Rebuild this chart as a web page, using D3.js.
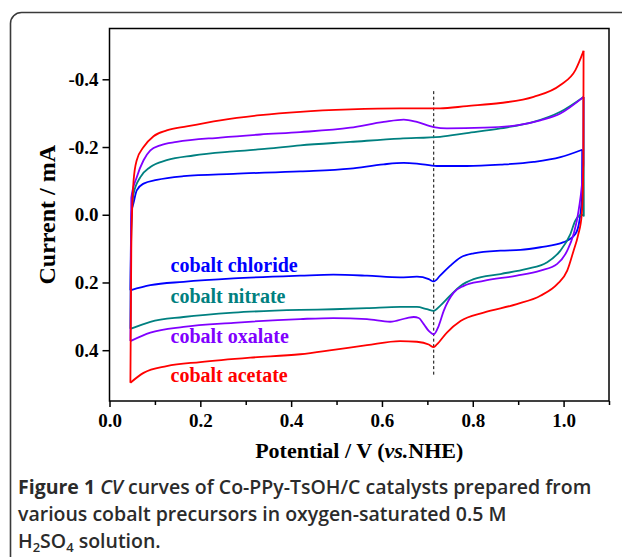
<!DOCTYPE html>
<html>
<head>
<meta charset="utf-8">
<script src="https://cdn.jsdelivr.net/npm/d3@7"></script>
<style>
  body { margin: 0; background: #fff; }
  svg { display: block; }
</style>
</head>
<body>
<div id="chart"></div>
<script>
// [potential V vs NHE, current mA]; forward sweep (upper branch) then reverse sweep (lower branch)
const chlorideFwd = [[0.046, 0.223], [0.047, 0.1], [0.049, -0.012], [0.053, -0.035], [0.060, -0.072], [0.075, -0.092],
  [0.104, -0.103], [0.163, -0.114], [0.273, -0.121], [0.420, -0.128], [0.530, -0.136], [0.604, -0.149], [0.648, -0.153],
  [0.677, -0.151], [0.721, -0.144], [0.787, -0.144], [0.861, -0.148], [0.934, -0.156], [0.993, -0.170], [1.041, -0.192]];
const chlorideRev = [[1.041, -0.192], [1.0405, -0.06], [1.035, 0.017], [1.026, 0.057], [1.000, 0.081], [0.949, 0.096],
  [0.905, 0.104], [0.861, 0.106], [0.802, 0.114], [0.773, 0.126], [0.750, 0.151], [0.728, 0.180], [0.714, 0.197],
  [0.703, 0.190], [0.677, 0.183], [0.640, 0.185], [0.567, 0.180], [0.493, 0.177], [0.420, 0.180], [0.273, 0.188],
  [0.163, 0.198], [0.090, 0.208], [0.046, 0.223]];

const nitrateFwd = [[0.046, 0.337], [0.047, 0.15], [0.049, 0.0], [0.053, -0.062], [0.068, -0.111], [0.090, -0.141],
  [0.126, -0.161], [0.185, -0.175], [0.273, -0.187], [0.347, -0.195], [0.420, -0.205], [0.530, -0.215], [0.640, -0.225],
  [0.728, -0.230], [0.787, -0.241], [0.861, -0.255], [0.934, -0.274], [0.993, -0.304], [1.044, -0.348]];
const nitrateRev = [[1.044, -0.348], [1.0445, 0.003], [1.040, 0.0], [1.026, 0.017], [1.015, 0.057], [0.993, 0.106],
  [0.963, 0.141], [0.919, 0.160], [0.861, 0.175], [0.802, 0.190], [0.773, 0.210], [0.750, 0.239], [0.728, 0.269],
  [0.714, 0.284], [0.699, 0.279], [0.677, 0.272], [0.640, 0.272], [0.567, 0.276], [0.493, 0.279], [0.420, 0.281],
  [0.273, 0.289], [0.163, 0.302], [0.090, 0.316], [0.046, 0.337]];

const oxalateFwd = [[0.046, 0.373], [0.047, 0.15], [0.048, -0.05], [0.060, -0.111], [0.075, -0.161], [0.090, -0.190],
  [0.112, -0.205], [0.148, -0.215], [0.244, -0.228], [0.332, -0.237], [0.420, -0.244], [0.530, -0.257], [0.604, -0.274],
  [0.648, -0.281], [0.677, -0.274], [0.714, -0.259], [0.743, -0.255], [0.824, -0.257], [0.897, -0.264], [0.949, -0.279],
  [0.993, -0.299], [1.044, -0.348]];
const oxalateRev = [[1.044, -0.348], [1.0435, -0.15], [1.033, -0.012], [1.022, 0.057], [1.008, 0.106], [0.986, 0.145],
  [0.949, 0.165], [0.897, 0.180], [0.824, 0.195], [0.780, 0.210], [0.758, 0.230], [0.736, 0.284], [0.725, 0.328],
  [0.714, 0.353], [0.703, 0.343], [0.692, 0.323], [0.681, 0.305], [0.670, 0.302], [0.655, 0.305], [0.618, 0.316],
  [0.567, 0.308], [0.493, 0.305], [0.420, 0.308], [0.273, 0.319], [0.163, 0.331], [0.090, 0.348], [0.046, 0.373]];

const acetateFwd = [[0.046, 0.496], [0.047, 0.3], [0.048, 0.1], [0.050, -0.02], [0.053, -0.1], [0.060, -0.161],
  [0.075, -0.200], [0.097, -0.232], [0.126, -0.249], [0.170, -0.261], [0.244, -0.279], [0.332, -0.294], [0.420, -0.304],
  [0.530, -0.311], [0.640, -0.314], [0.728, -0.314], [0.787, -0.321], [0.861, -0.330], [0.934, -0.348], [0.993, -0.383],
  [1.026, -0.427], [1.044, -0.484]];
const acetateRev = [[1.044, -0.484], [1.0435, -0.15], [1.040, 0.0], [1.032, 0.06], [1.022, 0.106], [1.008, 0.165],
  [0.986, 0.205], [0.949, 0.239], [0.897, 0.264], [0.824, 0.289], [0.773, 0.314], [0.743, 0.348], [0.721, 0.383],
  [0.714, 0.391], [0.703, 0.383], [0.677, 0.375], [0.640, 0.373], [0.567, 0.385], [0.493, 0.399], [0.420, 0.412],
  [0.310, 0.422], [0.200, 0.435], [0.126, 0.447], [0.075, 0.467], [0.046, 0.496]];

const seriesNames = ['cobalt chloride', 'cobalt nitrate', 'cobalt oxalate', 'cobalt acetate'];
const seriesColors = ['#0000ff', '#008080', '#8000ff', '#ff0000'];
const branches = [
  { color: 0, pts: chlorideFwd }, { color: 0, pts: chlorideRev },
  { color: 1, pts: nitrateFwd }, { color: 1, pts: nitrateRev },
  { color: 2, pts: oxalateFwd }, { color: 2, pts: oxalateRev },
  { color: 3, pts: acetateFwd }, { color: 3, pts: acetateRev }
];

const xTicks = [0, 0.2, 0.4, 0.6, 0.8, 1.0];
const xTickLabels = ['0.0', '0.2', '0.4', '0.6', '0.8', '1.0'];
const xMinorTicks = [0.1, 0.3, 0.5, 0.7, 0.9, 1.1];
const yTicks = [-0.4, -0.2, 0, 0.2, 0.4];
const yTickLabels = ['-0.4', '-0.2', '0.0', '0.2', '0.4'];
const markerPotential = 0.714;
const markerRange = [-0.365, 0.479];

const width = 622, height = 557;
const margin = { top: 28.5, right: 13, bottom: 156, left: 109.5 };
const plotW = width - margin.left - margin.right;
const plotH = height - margin.top - margin.bottom;

const svg = d3.select('#chart').append('svg')
  .attr('width', width)
  .attr('height', height);

// outer figure border (rounded corner, runs off the page right and bottom)
svg.append('rect')
  .attr('x', 10.5).attr('y', 12.5)
  .attr('width', 700).attr('height', 700)
  .attr('rx', 11)
  .attr('fill', 'none')
  .attr('stroke', '#3a3a3a')
  .attr('stroke-width', 1.6);

const g = svg.append('g')
  .attr('transform', `translate(${margin.left},${margin.top})`);

const x = d3.scaleLinear().domain([0, 1.1]).range([0, plotW]);
const y = d3.scaleLinear().domain([-0.55, 0.55]).range([0, plotH]);

const serif = '"Liberation Serif", "Times New Roman", serif';

// y axis
const yAxis = g.append('g')
  .call(d3.axisLeft(y).tickValues(yTicks).tickSize(7).tickPadding(4)
    .tickFormat((d, i) => yTickLabels[i]).tickSizeOuter(0));
yAxis.selectAll('text')
  .style('font-family', serif).style('font-size', '19px').style('font-weight', 'bold').attr('fill', '#000');

// x axis major
const xAxis = g.append('g')
  .attr('transform', `translate(0,${plotH})`)
  .call(d3.axisBottom(x).tickValues(xTicks).tickSize(6).tickPadding(7)
    .tickFormat((d, i) => xTickLabels[i]).tickSizeOuter(0));
xAxis.selectAll('text')
  .style('font-family', serif).style('font-size', '19px').style('font-weight', 'bold').attr('fill', '#000');

// x axis minor
g.append('g')
  .attr('transform', `translate(0,${plotH})`)
  .call(d3.axisBottom(x).tickValues(xMinorTicks).tickSize(4).tickFormat('').tickSizeOuter(0));

g.selectAll('.domain').remove();
g.selectAll('.tick line').attr('stroke', '#000').attr('stroke-width', 1.5);

// frame
g.append('rect')
  .attr('width', plotW).attr('height', plotH)
  .attr('fill', 'none').attr('stroke', '#000').attr('stroke-width', 1.5);

// dashed marker line
g.append('line')
  .attr('x1', x(markerPotential)).attr('x2', x(markerPotential))
  .attr('y1', y(markerRange[0])).attr('y2', y(markerRange[1]))
  .attr('stroke', '#000').attr('stroke-width', 1)
  .attr('stroke-dasharray', '3,2.5');

// CV branches
const line = d3.line()
  .x(d => x(d[0]))
  .y(d => y(d[1]))
  .curve(d3.curveMonotoneX);

g.selectAll('path.cv')
  .data(branches)
  .enter().append('path')
  .attr('class', 'cv')
  .attr('fill', 'none')
  .attr('stroke', d => seriesColors[d.color])
  .attr('stroke-width', 1.8)
  .attr('stroke-linejoin', 'round')
  .attr('d', d => line(d.pts));

// labels inside the plot
const labelY = [0.168, 0.260, 0.378, 0.495];
g.selectAll('text.lbl')
  .data(seriesNames)
  .enter().append('text')
  .attr('class', 'lbl')
  .attr('x', 61)
  .attr('y', (d, i) => y(labelY[i]))
  .attr('fill', (d, i) => seriesColors[i])
  .style('font-family', serif).style('font-size', '20px').style('font-weight', 'bold')
  .text(d => d);

// axis titles
const xt = svg.append('text')
  .attr('x', margin.left + plotW / 2).attr('y', 458)
  .attr('text-anchor', 'middle')
  .style('font-family', serif).style('font-size', '22px').style('font-weight', 'bold');
xt.append('tspan').text('Potential / V (');
xt.append('tspan').style('font-style', 'italic').text('vs.');
xt.append('tspan').text('NHE)');

svg.append('text')
  .attr('transform', `translate(55,${margin.top + plotH / 2}) rotate(-90)`)
  .attr('text-anchor', 'middle')
  .style('font-family', serif).style('font-size', '24px').style('font-weight', 'bold')
  .text('Current / mA');

// caption
const cap = svg.append('g')
  .style('font-family', '"Open Sans", "Noto Sans", sans-serif')
  .style('font-size', '19.5px')
  .style('font-weight', 600)
  .attr('fill', '#2b2b2b');

const c1 = cap.append('text').attr('x', 18).attr('y', 494);
c1.append('tspan').style('font-weight', 700).text('Figure 1 ');
c1.append('tspan').style('font-style', 'italic').text('CV');
c1.append('tspan').text(' curves of Co-PPy-TsOH/C catalysts prepared from');

cap.append('text').attr('x', 18).attr('y', 521)
  .text('various cobalt precursors in oxygen-saturated 0.5 M');

const c3 = cap.append('text').attr('x', 18).attr('y', 548);
c3.append('tspan').text('H');
c3.append('tspan').attr('dy', 4).style('font-size', '13px').text('2');
c3.append('tspan').attr('dy', -4).text('SO');
c3.append('tspan').attr('dy', 4).style('font-size', '13px').text('4');
c3.append('tspan').attr('dy', -4).text(' solution.');
</script>
</body>
</html>
